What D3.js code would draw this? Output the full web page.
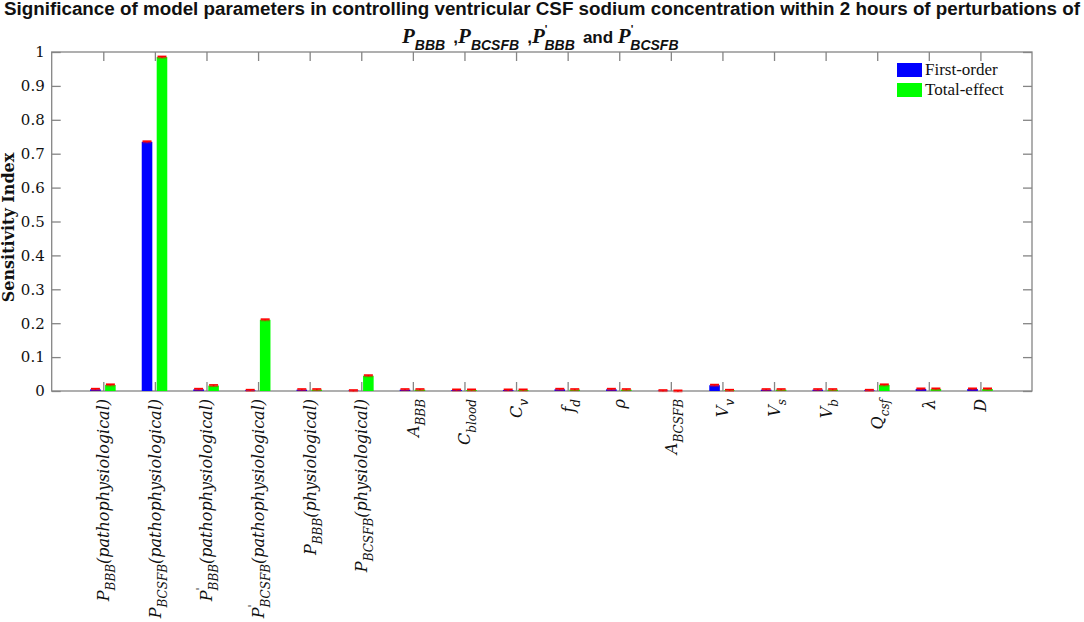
<!DOCTYPE html>
<html><head><meta charset="utf-8">
<script src="https://cdn.jsdelivr.net/npm/d3@7"></script>
<style>body{margin:0;background:#fff}svg{display:block}</style>
</head><body>
<script>
// ---- data ----
const catBase   = ["P","P","P","P","P","P","A","C","C","f","ρ","A","V","V","V","Q","λ","D"];
const catSub    = ["BBB","BCSFB","BBB","BCSFB","BBB","BCSFB","BBB","blood","v","d","","BCSFB","v","s","b","csf","",""];
const catPrime  = [false,false,true,true,false,false,false,false,false,false,false,false,false,false,false,false,false,false];
const catSuffix = ["(pathophysiological)","(pathophysiological)","(pathophysiological)","(pathophysiological)","(physiological)","(physiological)","","","","","","","","","","","",""];
const firstOrder  = [0.005,0.735,0.005,0.002,0.004,0.001,0.004,0.003,0.003,0.005,0.005,0.001,0.017,0.004,0.004,0.002,0.006,0.006];
const totalEffect = [0.018,0.985,0.016,0.210,0.004,0.045,0.004,0.003,0.003,0.004,0.004,0.000,0.002,0.004,0.004,0.018,0.006,0.006];
const firstErr    = [0.002,0.002,0.002,0.002,0.002,0.002,0.002,0.002,0.002,0.002,0.002,0.002,0.002,0.002,0.002,0.002,0.002,0.002];
const totalErr    = [0.002,0.002,0.002,0.002,0.002,0.002,0.002,0.002,0.002,0.002,0.002,0.002,0.002,0.002,0.002,0.002,0.002,0.002];
const yTicks = [0,0.1,0.2,0.3,0.4,0.5,0.6,0.7,0.8,0.9,1];
const seriesNames = ["First-order","Total-effect"];
const seriesColors = ["#0000ff","#00ff00"];

const W=1084,H=622;
const L=51.7,R=1032,T=52,B=391;
const svg=d3.select("body").append("svg").attr("width",W).attr("height",H);
const x=d3.scaleLinear().domain([0,catBase.length+1]).range([L,R]);
const y=d3.scaleLinear().domain([0,1]).range([B,T]);
const axisCol="#858585";
const serif="'DejaVu Serif', serif";
const serif2="'Liberation Serif', serif";

// title
const title=svg.append("g").attr("font-family","'Liberation Sans Narrow','Liberation Sans',sans-serif").attr("font-weight","bold").attr("fill","#111");
title.append("text").attr("x",W/2).attr("y",15).attr("text-anchor","middle").attr("font-size",18)
  .attr("textLength",1076).attr("lengthAdjust","spacingAndGlyphs")
  .text("Significance of model parameters in controlling ventricular CSF sodium concentration within 2 hours of perturbations of");
const t2=title.append("text").attr("x",W/2).attr("y",43).attr("text-anchor","middle").attr("font-size",17);
function titleP(sub,prime,lead){
  if(lead) t2.append("tspan").text(lead);
  t2.append("tspan").attr("font-style","italic").attr("font-size",21).attr("font-family",serif2).text("P");
  if(prime){ t2.append("tspan").attr("font-size",11).attr("dy",-10).text("'");
     t2.append("tspan").attr("font-size",14).attr("font-style","italic").attr("dx",-3).attr("dy",17).text(sub);
     t2.append("tspan").attr("dy",-7).text("\u2009");
  } else {
     t2.append("tspan").attr("font-size",14).attr("font-style","italic").attr("dy",7).text(sub);
     t2.append("tspan").attr("dy",-7).text("\u2009");
  }
}
titleP("BBB",false,"");
titleP("BCSFB",false," ,");
titleP("BBB",true," ,");
titleP("BCSFB",true," and ");

// y tick labels & axes
const g=svg.append("g");
g.append("rect").attr("x",L).attr("y",T).attr("width",R-L).attr("height",B-T).attr("fill","none").attr("stroke",axisCol).attr("stroke-width",1.3);
const yAx=d3.axisLeft(y).tickValues(yTicks).tickSize(-9).tickPadding(7).tickFormat(d=>String(+d.toFixed(1)));
const ya=g.append("g").attr("transform",`translate(${L},0)`).call(yAx);
ya.select(".domain").remove();
ya.selectAll("line").attr("stroke",axisCol).attr("stroke-width",1.3);
ya.selectAll("text").attr("font-family",serif).attr("font-size",15).attr("fill","#111");
const yR=g.append("g").attr("transform",`translate(${R},0)`).call(d3.axisRight(y).tickValues(yTicks).tickSize(-9).tickFormat(""));
yR.select(".domain").remove(); yR.selectAll("line").attr("stroke",axisCol).attr("stroke-width",1.3);
const cats=d3.range(1,catBase.length+1);
const xB=g.append("g").attr("transform",`translate(0,${B})`).call(d3.axisBottom(x).tickValues(cats).tickSize(-9).tickFormat(""));
xB.select(".domain").remove(); xB.selectAll("line").attr("stroke",axisCol).attr("stroke-width",1.3);
const xT=g.append("g").attr("transform",`translate(0,${T})`).call(d3.axisTop(x).tickValues(cats).tickSize(-9).tickFormat(""));
xT.select(".domain").remove(); xT.selectAll("line").attr("stroke",axisCol).attr("stroke-width",1.3);

// bars
const offs=[[-0.255,-0.05],[0.035,0.24]];
[firstOrder,totalEffect].forEach((vals,si)=>{
  const errs= si===0?firstErr:totalErr;
  const bg=svg.append("g");
  bg.selectAll("rect").data(vals).join("rect")
    .attr("x",(d,i)=>x(i+1+offs[si][0])).attr("width",(d,i)=>x(i+1+offs[si][1])-x(i+1+offs[si][0]))
    .attr("y",d=>y(d)).attr("height",d=>y(0)-y(d)).attr("fill",seriesColors[si]);
  const eg=svg.append("g").attr("stroke","#ff0000").attr("stroke-width",1.6);
  vals.forEach((d,i)=>{
    const cx=x(i+1+(offs[si][0]+offs[si][1])/2);
    eg.append("line").attr("x1",cx).attr("x2",cx).attr("y1",y(d-errs[i])).attr("y2",y(d+errs[i]));
    eg.append("line").attr("x1",cx-4.5).attr("x2",cx+4.5).attr("y1",y(d+errs[i])).attr("y2",y(d+errs[i]));
    eg.append("line").attr("x1",cx-4.5).attr("x2",cx+4.5).attr("y1",y(d-errs[i])).attr("y2",y(d-errs[i])).attr("stroke-opacity",0.5);
  });
});

// x labels
const xl=svg.append("g").attr("font-family",serif).attr("font-style","italic").attr("fill","#111");
catBase.forEach((b,i)=>{
  const cx=x(i+1);
  const t=xl.append("text").attr("transform",`translate(${cx+6},${B+8}) rotate(-90)`).attr("text-anchor","end").attr("font-size",16);
  t.append("tspan").text(b);
  if(catPrime[i]){
    t.append("tspan").attr("font-size",11).attr("dy",-8).text("'");
    t.append("tspan").attr("font-size",12).attr("dx",-3).attr("dy",14).text(catSub[i]);
    t.append("tspan").attr("dy",-6).text(catSuffix[i]);
  } else if(catSub[i]){
    t.append("tspan").attr("font-size",12).attr("dy",6).text(catSub[i]);
    t.append("tspan").attr("dy",-6).text(catSuffix[i]);
  }
});

// y label
svg.append("text").attr("transform",`translate(14,${(T+B)/2+6}) rotate(-90)`).attr("text-anchor","middle")
  .attr("font-family",serif).attr("font-size",16).attr("font-weight","bold").attr("fill","#111").text("Sensitivity Index");

// legend
const lg=svg.append("g").attr("transform","translate(897,63)");
seriesNames.forEach((n,i)=>{
  lg.append("rect").attr("x",0).attr("y",i*20).attr("width",25).attr("height",14).attr("fill",seriesColors[i]);
  lg.append("text").attr("x",28).attr("y",i*20+12).attr("font-family",serif2).attr("font-size",17).attr("fill","#111").text(n);
});
</script>
</body></html>
